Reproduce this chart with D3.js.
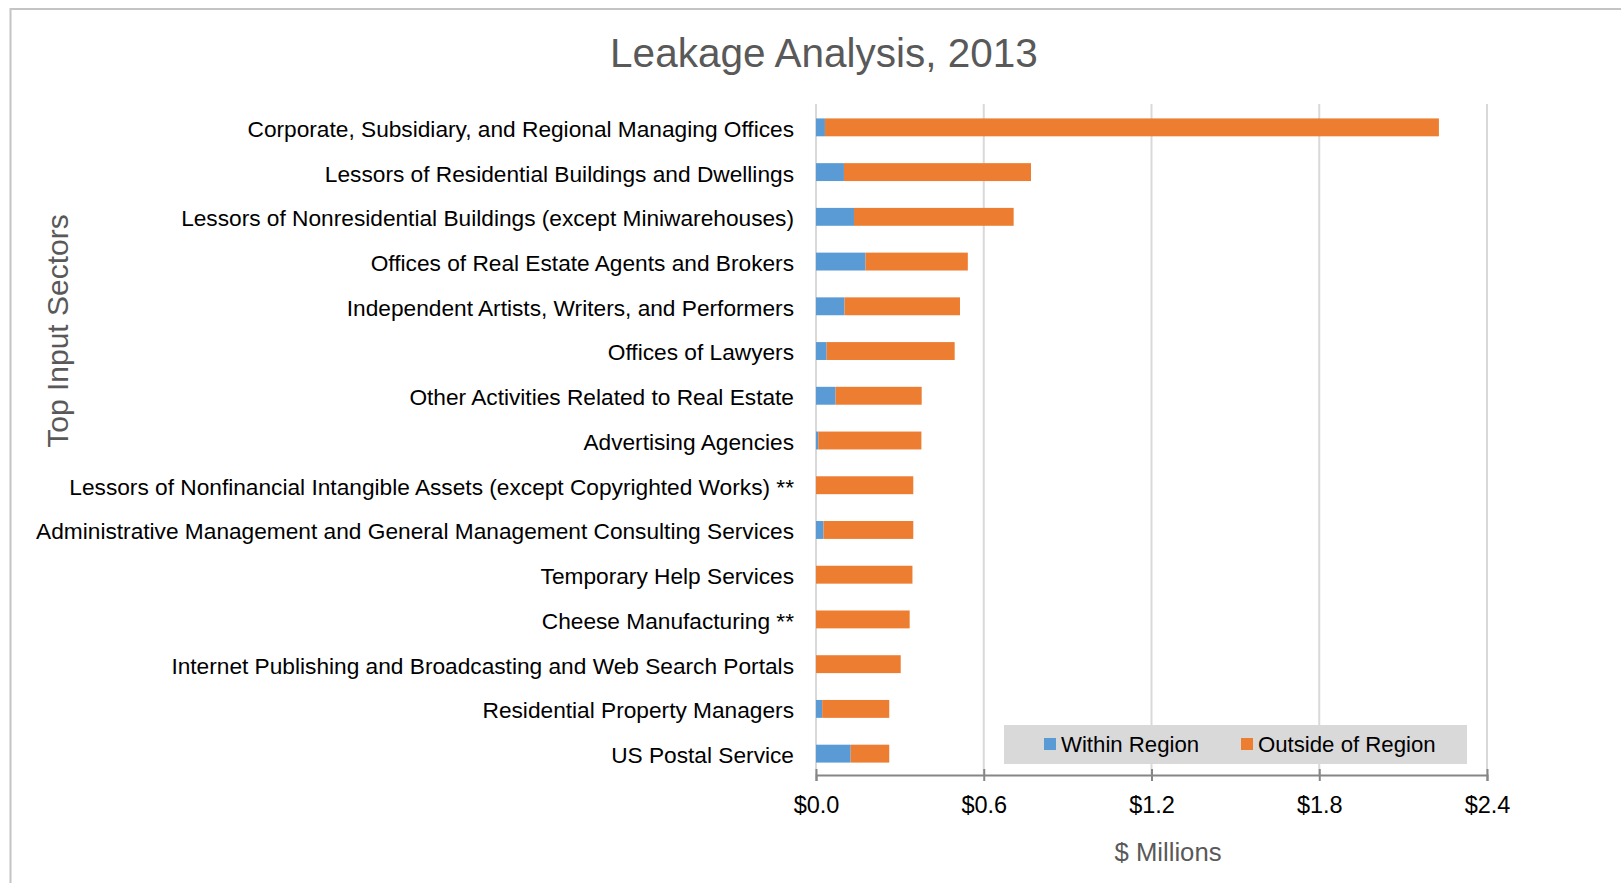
<!DOCTYPE html>
<html>
<head>
<meta charset="utf-8">
<script src="https://cdn.jsdelivr.net/npm/d3@7"></script>
<style>
  body { margin: 0; background: #fff; }
  svg { display: block; }
</style>
</head>
<body>
<div id="chart-area"></div>
<script>
// Leakage Analysis, 2013 - stacked horizontal bars

const sectors = [
  "Corporate, Subsidiary, and Regional Managing Offices",
  "Lessors of Residential Buildings and Dwellings",
  "Lessors of Nonresidential Buildings (except Miniwarehouses)",
  "Offices of Real Estate Agents and Brokers",
  "Independent Artists, Writers, and Performers",
  "Offices of Lawyers",
  "Other Activities Related to Real Estate",
  "Advertising Agencies",
  "Lessors of Nonfinancial Intangible Assets (except Copyrighted Works) **",
  "Administrative Management and General Management Consulting Services",
  "Temporary Help Services",
  "Cheese Manufacturing **",
  "Internet Publishing and Broadcasting and Web Search Portals",
  "Residential Property Managers",
  "US Postal Service"
]

// $ millions
const withinRegion  = [0.032, 0.100, 0.136, 0.177, 0.102, 0.038, 0.070, 0.008, 0.000, 0.027, 0.000, 0.000, 0.000, 0.022, 0.124]
const outsideRegion = [2.196, 0.669, 0.571, 0.366, 0.413, 0.458, 0.308, 0.369, 0.348, 0.321, 0.345, 0.335, 0.303, 0.240, 0.138]

const seriesNames = ["Within Region", "Outside of Region"]
const seriesColors = ["#5b9bd5", "#ed7d31"]
const xTicks = [0, 0.6, 1.2, 1.8, 2.4]

const width = 1621, height = 883
const plot = { left: 816, right: 1487, top: 104, bottom: 775 }
const font = "'Liberation Sans', Arial, sans-serif"

const svg = d3.select("#chart-area").append("svg")
    .attr("width", width)
    .attr("height", height)

// chart border
svg.append("rect")
    .attr("x", 10.5).attr("y", 9)
    .attr("width", width + 20).attr("height", height + 20)
    .attr("fill", "none")
    .attr("stroke", "#c4c4c4")
    .attr("stroke-width", 2)

const x = d3.scaleLinear().domain([0, 2.4]).range([plot.left, plot.right])
const y = d3.scaleBand().domain(sectors).range([plot.top, plot.bottom])
    .paddingInner(0.6).paddingOuter(0.3)

// gridlines
svg.append("g").selectAll("line")
  .data(xTicks)
  .join("line")
    .attr("x1", d => x(d)).attr("x2", d => x(d))
    .attr("y1", plot.top).attr("y2", plot.bottom)
    .attr("stroke", "#d9d9d9")
    .attr("stroke-width", 2)

// stacked data
const rows = sectors.map((s, i) => ({ sector: s, within: withinRegion[i], outside: outsideRegion[i] }))
const stack = d3.stack().keys(["within", "outside"])(rows)

svg.append("g").selectAll("g")
  .data(stack)
  .join("g")
    .attr("fill", (d, i) => seriesColors[i])
  .selectAll("rect")
  .data(d => d)
  .join("rect")
    .attr("x", d => x(d[0]))
    .attr("y", d => y(d.data.sector) + 1)
    .attr("width", d => Math.max(0, x(d[1]) - x(d[0])))
    .attr("height", y.bandwidth())

// x axis
const xAxis = svg.append("g")
    .attr("transform", `translate(0,${plot.bottom})`)
    .call(d3.axisBottom(x).tickValues(xTicks).tickFormat(d => "$" + d3.format(".1f")(d)).tickSize(6))

xAxis.select(".domain").attr("stroke", "#868686").attr("stroke-width", 2)
xAxis.selectAll(".tick line").attr("y1", -6).attr("y2", 6).attr("stroke", "#868686").attr("stroke-width", 2)
xAxis.selectAll(".tick text")
    .attr("y", 30).attr("dy", "0.35em")
    .attr("fill", "#000")
    .style("font-family", font)
    .style("font-size", "23.5px")

// category labels
svg.append("g").selectAll("text")
  .data(sectors)
  .join("text")
    .attr("x", plot.left - 22)
    .attr("y", d => y(d) + y.bandwidth() / 2 + 2.5)
    .attr("dy", "0.35em")
    .attr("text-anchor", "end")
    .attr("fill", "#000")
    .style("font-family", font)
    .style("font-size", "22.7px")
    .text(d => d)

// title
svg.append("text")
    .attr("x", 824).attr("y", 67)
    .attr("text-anchor", "middle")
    .attr("fill", "#595959")
    .style("font-family", font)
    .style("font-size", "40.5px")
    .text("Leakage Analysis, 2013")

// axis titles
svg.append("text")
    .attr("transform", "translate(57,331) rotate(-90)")
    .attr("text-anchor", "middle")
    .attr("dy", "0.35em")
    .attr("fill", "#595959")
    .style("font-family", font)
    .style("font-size", "30px")
    .text("Top Input Sectors")

svg.append("text")
    .attr("x", 1168).attr("y", 852)
    .attr("dy", "0.35em")
    .attr("text-anchor", "middle")
    .attr("fill", "#595959")
    .style("font-family", font)
    .style("font-size", "25.7px")
    .text("$ Millions")

// legend
const legend = svg.append("g")
legend.append("rect")
    .attr("x", 1004).attr("y", 725)
    .attr("width", 463).attr("height", 39)
    .attr("fill", "#d9d9d9")

const legendX = [1044, 1241]
const item = legend.selectAll("g.item")
  .data(seriesNames)
  .join("g")
    .attr("class", "item")
    .attr("transform", (d, i) => `translate(${legendX[i]},744)`)

item.append("rect")
    .attr("x", 0).attr("y", -6)
    .attr("width", 12).attr("height", 12)
    .attr("fill", (d, i) => seriesColors[i])

item.append("text")
    .attr("x", 17)
    .attr("dy", "0.35em")
    .attr("fill", "#000")
    .style("font-family", font)
    .style("font-size", "22.2px")
    .text(d => d)
</script>
</body>
</html>
